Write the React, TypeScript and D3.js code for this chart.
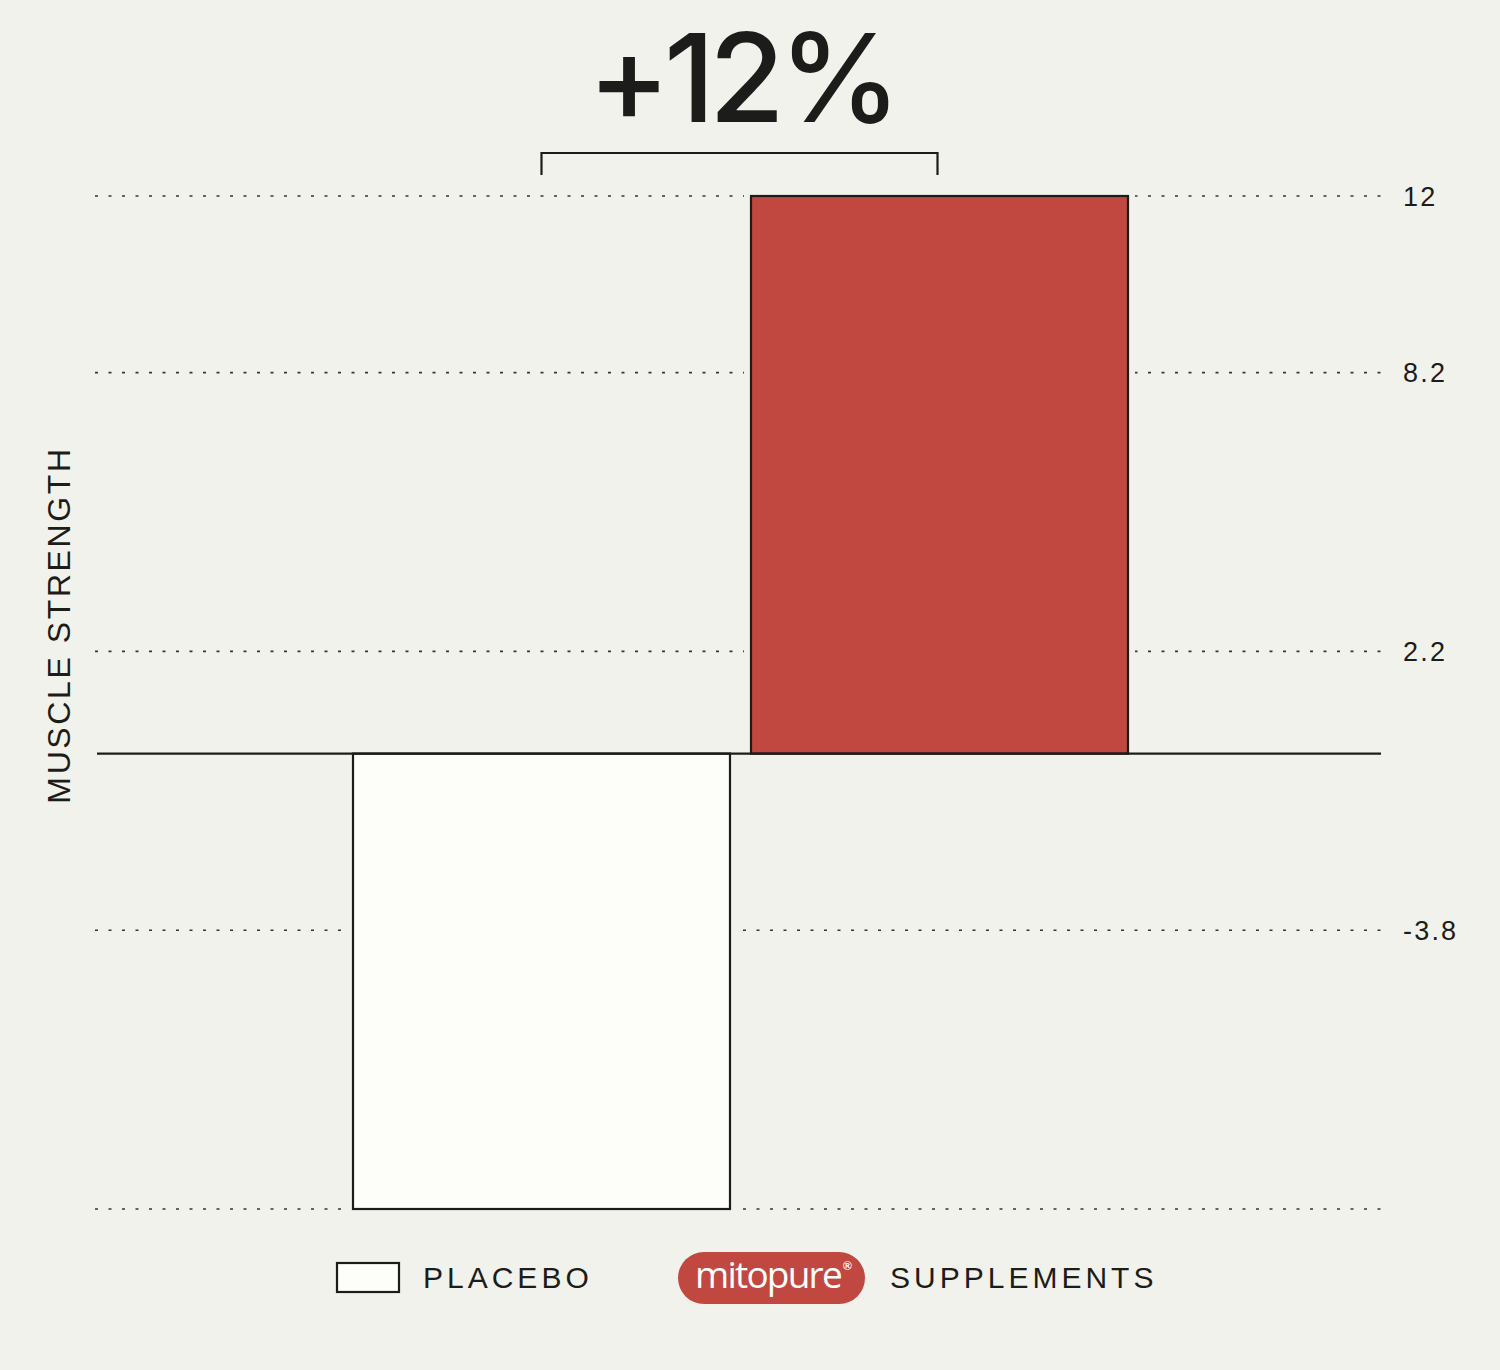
import React from "react";
import * as d3 from "d3";

const categories: string[] = ["PLACEBO", "SUPPLEMENTS"];
const values: number[] = [-9.8, 12];
const tickValues: number[] = [12, 8.2, 2.2, -3.8];
const tickLabels: string[] = ["12", "8.2", "2.2", "-3.8"];
const gridValues: number[] = [12, 8.2, 2.2, -3.8, -9.8];
const headline = "+12%";
const yAxisTitle = "MUSCLE STRENGTH";
const brandName = "mitopure";

const W = 1500;
const H = 1370;
const BG = "#f2f2ec";
const RED = "#c14840";
const INK = "#1c1c1a";
const WHITE = "#fdfdf9";

export default function App() {
  const x = d3
    .scaleBand<string>()
    .domain(categories)
    .range([353, 1128])
    .paddingInner(0.0528)
    .paddingOuter(0);
  const y = d3.scaleLinear().domain([-9.8, 12]).range([1209, 196]);

  const fills = [WHITE, RED];
  const gridX0 = 95;
  const gridX1 = 1381;

  const c0 = (x(categories[0]) ?? 0) + x.bandwidth() / 2;
  const c1 = (x(categories[1]) ?? 0) + x.bandwidth() / 2 - 2;
  const bracketY = 153;
  const bracketDrop = 22;

  const sans = "'Liberation Sans', Arial, Helvetica, sans-serif";

  return (
    <svg
      width={W}
      height={H}
      viewBox={`0 0 ${W} ${H}`}
      style={{ position: "absolute", left: 0, top: 0, display: "block" }}
    >
      <rect x={0} y={0} width={W} height={H} fill={BG} />

      {/* gridlines */}
      {gridValues.map((v, i) => (
        <line
          key={"g" + i}
          x1={gridX0}
          x2={gridX1}
          y1={y(v)}
          y2={y(v)}
          stroke="#3a3433"
          strokeWidth={1.6}
          strokeDasharray="3 10.5"
        />
      ))}

      {/* tick labels */}
      {tickValues.map((v, i) => (
        <text
          key={"t" + i}
          x={1403}
          y={y(v) + 9.5}
          fontFamily={sans}
          fontSize={27}
          letterSpacing={2.2}
          fill={INK}
        >
          {tickLabels[i]}
        </text>
      ))}

      {/* bar halos to break gridlines */}
      {categories.map((c, i) => {
        const y0 = Math.min(y(0), y(values[i]));
        const h = Math.abs(y(values[i]) - y(0));
        return (
          <rect
            key={"h" + i}
            x={x(c)}
            y={y0}
            width={x.bandwidth()}
            height={h}
            fill={BG}
            stroke={BG}
            strokeWidth={14}
          />
        );
      })}

      {/* bars */}
      {categories.map((c, i) => {
        const y0 = Math.min(y(0), y(values[i]));
        const h = Math.abs(y(values[i]) - y(0));
        return (
          <rect
            key={"b" + i}
            x={x(c)}
            y={y0}
            width={x.bandwidth()}
            height={h}
            fill={fills[i]}
            stroke={INK}
            strokeWidth={2.2}
          />
        );
      })}

      {/* zero line */}
      <line x1={97} x2={gridX1} y1={y(0)} y2={y(0)} stroke={INK} strokeWidth={2.2} />

      {/* bracket */}
      <path
        d={`M${c0},${bracketY + bracketDrop} V${bracketY} H${c1} V${bracketY + bracketDrop}`}
        fill="none"
        stroke={INK}
        strokeWidth={2.2}
      />

      {/* headline */}
      <text
        x={(c0 + c1) / 2 + 2}
        y={122}
        textAnchor="middle"
        fontFamily="Inter, 'Liberation Sans', sans-serif"
        fontWeight={500}
        fontSize={123}
        letterSpacing={-6}
        fill={INK}
      >
        {headline}
      </text>

      {/* y axis title */}
      <text
        transform={`translate(70, 625) rotate(-90)`}
        textAnchor="middle"
        fontFamily={sans}
        fontSize={32}
        letterSpacing={2.6}
        fill={INK}
      >
        {yAxisTitle}
      </text>

      {/* legend */}
      <rect x={337} y={1263} width={62} height={29} fill={WHITE} stroke={INK} strokeWidth={2.2} />
      <text x={423} y={1288} fontFamily={sans} fontSize={30} letterSpacing={4} fill={INK}>
        {categories[0]}
      </text>

      <rect x={678} y={1252} width={187} height={52} rx={26} ry={26} fill={RED} />
      <text
        x={695}
        y={1288}
        fontFamily="'Open Sans', 'Noto Sans', sans-serif"
        fontWeight={500}
        fontSize={37}
        letterSpacing={-1.8}
        fill="#ffffff"
      >
        {brandName}
      </text>
      <text
        x={843}
        y={1270}
        fontFamily={sans}
        fontSize={12}
        fontWeight={700}
        fill="#ffffff"
      >
        ®
      </text>
      <text x={890} y={1288} fontFamily={sans} fontSize={30} letterSpacing={4} fill={INK}>
        {categories[1]}
      </text>
    </svg>
  );
}
